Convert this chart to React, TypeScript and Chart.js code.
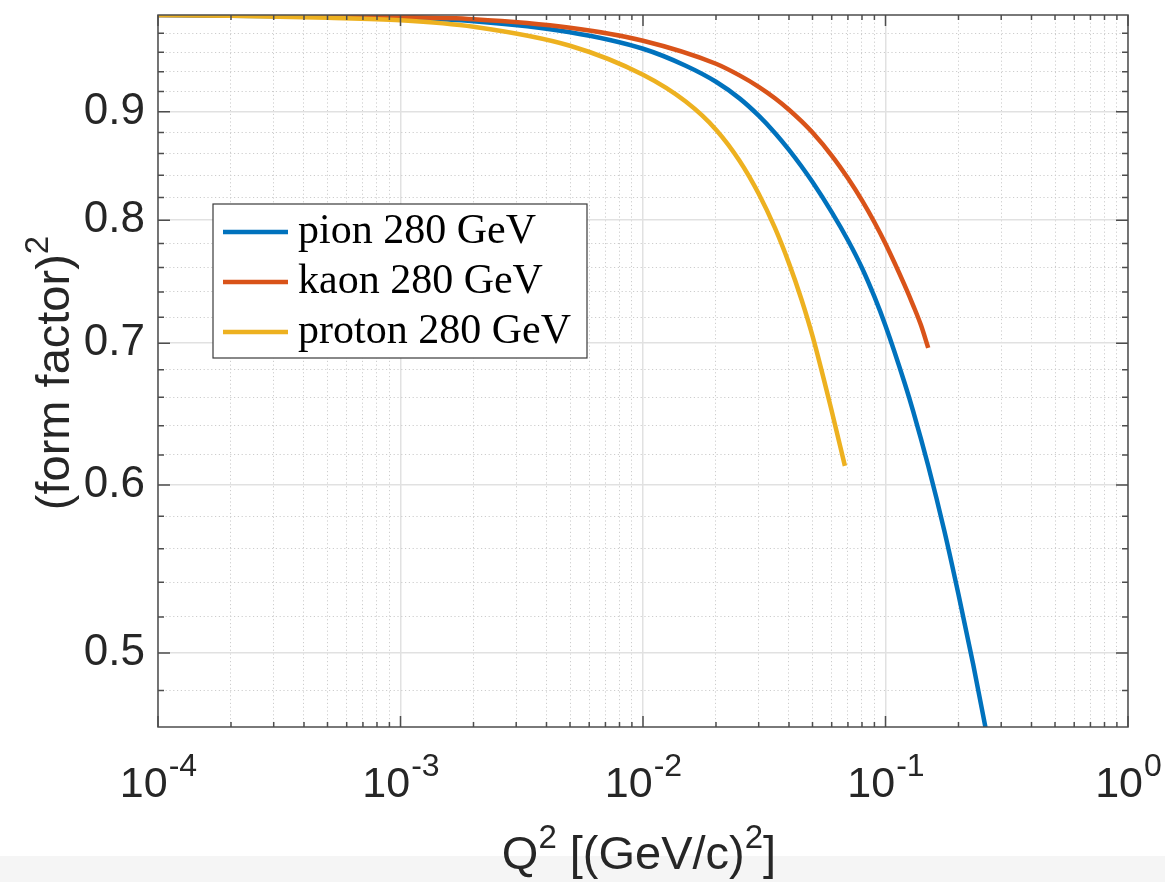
import { useEffect, useRef } from 'react';
import { Chart, registerables } from 'chart.js';

Chart.register(...registerables);

// ---------- data ----------
const seriesLabels = ['pion 280 GeV', 'kaon 280 GeV', 'proton 280 GeV'];
const seriesColors = ['#0072BD', '#D95319', '#EDB120'];

const q2Pion = [1e-4, 2e-4, 5e-4, 1e-3, 2e-3, 5e-3, 0.01, 0.015, 0.02, 0.025, 0.03, 0.035, 0.04, 0.045, 0.05, 0.06, 0.07, 0.08, 0.09, 0.1, 0.12, 0.13, 0.15, 0.175, 0.2, 0.23, 0.26];
const ffPion = [0.99967, 0.99891, 0.99783, 0.99642, 0.99296, 0.98116, 0.96372, 0.94612, 0.92978, 0.91316, 0.89616, 0.87956, 0.86356, 0.8483, 0.83386, 0.80712, 0.78277, 0.75956, 0.73623, 0.7134, 0.67019, 0.65025, 0.61277, 0.57073, 0.53281, 0.49377, 0.45946];

const q2Kaon = [1e-4, 2e-4, 5e-4, 1e-3, 2e-3, 5e-3, 0.01, 0.02, 0.025, 0.03, 0.035, 0.04, 0.045, 0.05, 0.06, 0.07, 0.08, 0.09, 0.1, 0.12, 0.13, 0.14, 0.15];
const ffKaon = [0.99978, 0.99935, 0.99848, 0.9975, 0.99512, 0.98597, 0.97215, 0.94818, 0.93627, 0.92475, 0.91336, 0.90202, 0.89081, 0.87985, 0.85822, 0.83731, 0.81745, 0.79822, 0.7798, 0.74534, 0.72939, 0.71386, 0.6964];

const q2Proton = [1e-4, 2e-4, 5e-4, 1e-3, 2e-3, 5e-3, 0.01, 0.015, 0.02, 0.025, 0.03, 0.035, 0.04, 0.045, 0.05, 0.06, 0.068];
const ffProton = [0.99967, 0.99891, 0.99675, 0.99404, 0.98705, 0.96687, 0.93687, 0.91, 0.88264, 0.85339, 0.82333, 0.7933, 0.76335, 0.73424, 0.70554, 0.65032, 0.61266];

// ---------- axes ----------
const xMin = 1e-4;
const xMax = 1;
const yMin = 0.4614;
const yMax = 0.9997;

const xMajorTicks = [1e-4, 1e-3, 1e-2, 1e-1, 1];
const xTickExponents = ['-4', '-3', '-2', '-1', '0'];
const xMinorMultipliers = [2, 3, 4, 5, 6, 7, 8, 9];

const yMajorTicks = [0.5, 0.6, 0.7, 0.8, 0.9];
const yTickLabels = ['0.5', '0.6', '0.7', '0.8', '0.9'];
const yMinorTicks = [0.48, 0.52, 0.54, 0.56, 0.58, 0.62, 0.64, 0.66, 0.68, 0.72, 0.74, 0.76, 0.78, 0.82, 0.84, 0.86, 0.88, 0.92, 0.94, 0.96, 0.98];

const xTitleMain = ['Q', ' [(GeV/c)', ']'];
const yTitleMain = '(form factor)';

const xAllTicks: number[] = [];
xMajorTicks.forEach((m, i) => {
  xAllTicks.push(m);
  if (i < xMajorTicks.length - 1) xMinorMultipliers.forEach((k) => xAllTicks.push(m * k));
});
const yAllTicks = [...yMinorTicks, ...yMajorTicks].sort((a, b) => a - b);

const near = (a: number, b: number) => Math.abs(a - b) < 1e-9;
const isMajorX = (v: any) => typeof v === 'number' && xMajorTicks.some((m) => Math.abs(m - v) / m < 1e-6);
const isMajorY = (v: any) => typeof v === 'number' && yMajorTicks.some((m) => near(m, v));

const SANS = '"Liberation Sans", Arial, Helvetica, sans-serif';
const SERIF = '"Liberation Serif", "Times New Roman", serif';
const TEXT = '#262626';
const MAJOR_GRID = '#e1e1e1';
const MINOR_GRID = '#cdcdcd';

const mkPts = (xs: number[], ys: number[]) => xs.map((x, i) => ({ x, y: ys[i] }));

const matlabPlugin = {
  id: 'matlabLook',
  beforeDraw(chart: any) {
    const { ctx, width, height } = chart;
    ctx.save();
    ctx.fillStyle = '#ffffff';
    ctx.fillRect(0, 0, width, height);
    ctx.fillStyle = '#f5f5f5';
    ctx.fillRect(0, 856, width, height - 856);
    ctx.restore();
  },
  afterDraw(chart: any) {
    const { ctx, chartArea: ca } = chart;
    const xs = chart.scales.x;
    const ys = chart.scales.y;
    ctx.save();

    // box
    ctx.strokeStyle = '#4d4d4d';
    ctx.lineWidth = 1.5;
    ctx.strokeRect(ca.left, ca.top, ca.right - ca.left, ca.bottom - ca.top);

    // inward ticks on all four sides
    ctx.beginPath();
    xAllTicks.forEach((v) => {
      const px = xs.getPixelForValue(v);
      const len = isMajorX(v) ? 11 : 5;
      ctx.moveTo(px, ca.bottom);
      ctx.lineTo(px, ca.bottom - len);
      ctx.moveTo(px, ca.top);
      ctx.lineTo(px, ca.top + len);
    });
    yAllTicks.forEach((v) => {
      const py = ys.getPixelForValue(v);
      const len = isMajorY(v) ? 12 : 6;
      ctx.moveTo(ca.left, py);
      ctx.lineTo(ca.left + len, py);
      ctx.moveTo(ca.right, py);
      ctx.lineTo(ca.right - len, py);
    });
    ctx.stroke();

    // x tick labels 10^n
    ctx.fillStyle = TEXT;
    ctx.textBaseline = 'alphabetic';
    ctx.textAlign = 'left';
    const baseFont = `43px ${SANS}`;
    const supFont = `32px ${SANS}`;
    xMajorTicks.forEach((v, i) => {
      const px = xs.getPixelForValue(v);
      ctx.font = baseFont;
      const wb = ctx.measureText('10').width;
      ctx.font = supFont;
      const ws = ctx.measureText(xTickExponents[i]).width;
      const sx = px - (wb + ws) / 2;
      ctx.font = baseFont;
      ctx.fillText('10', sx, 797);
      ctx.font = supFont;
      ctx.fillText(xTickExponents[i], sx + wb + 1, 776);
    });

    // x title: Q^2 [(GeV/c)^2]
    const tMain = `47px ${SANS}`;
    const tSup = `33px ${SANS}`;
    const parts = [
      { t: xTitleMain[0], sup: false },
      { t: '2', sup: true },
      { t: xTitleMain[1], sup: false },
      { t: '2', sup: true },
      { t: xTitleMain[2], sup: false },
    ];
    let total = 0;
    const widths = parts.map((p) => {
      ctx.font = p.sup ? tSup : tMain;
      const w = ctx.measureText(p.t).width;
      total += w;
      return w;
    });
    let cx = (ca.left + ca.right) / 2 - 4 - total / 2;
    parts.forEach((p, i) => {
      ctx.font = p.sup ? tSup : tMain;
      ctx.fillText(p.t, cx, p.sup ? 848 : 869);
      cx += widths[i];
    });

    // y title: (form factor)^2, rotated
    ctx.save();
    const cy = (ca.top + ca.bottom) / 2 + 2;
    ctx.translate(69, cy);
    ctx.rotate(-Math.PI / 2);
    ctx.font = tMain;
    const wm = ctx.measureText(yTitleMain).width;
    ctx.font = tSup;
    const w2 = ctx.measureText('2').width;
    const st = -(wm + w2) / 2;
    ctx.font = tMain;
    ctx.fillText(yTitleMain, st, 0);
    ctx.font = tSup;
    ctx.fillText('2', st + wm, -21);
    ctx.restore();

    // legend
    const lx = 213, ly = 204, lw = 374, lh = 154;
    ctx.fillStyle = '#ffffff';
    ctx.fillRect(lx, ly, lw, lh);
    ctx.strokeStyle = '#3a3a3a';
    ctx.lineWidth = 1.2;
    ctx.strokeRect(lx, ly, lw, lh);
    ctx.font = `42px ${SERIF}`;
    chart.data.datasets.forEach((ds: any, i: number) => {
      const yc = 232 + i * 50;
      ctx.strokeStyle = ds.borderColor;
      ctx.lineWidth = 4.5;
      ctx.beginPath();
      ctx.moveTo(223, yc);
      ctx.lineTo(288, yc);
      ctx.stroke();
      ctx.fillStyle = '#000000';
      ctx.fillText(ds.label, 298, yc + 11);
    });

    ctx.restore();
  },
};

export default function App() {
  const ref = useRef<HTMLCanvasElement | null>(null);

  useEffect(() => {
    if (!ref.current) return;
    const gridColor = (ctx: any, major: (v: any) => boolean) =>
      ctx.tick && major(ctx.tick.value) ? MAJOR_GRID : MINOR_GRID;
    const gridWidth = (ctx: any, major: (v: any) => boolean) =>
      ctx.tick && major(ctx.tick.value) ? 1.5 : 1;
    const gridDash = (ctx: any, major: (v: any) => boolean) =>
      ctx.tick && !major(ctx.tick.value) ? [1.2, 2.6] : [];

    const chart = new Chart(ref.current, {
      type: 'line',
      data: {
        datasets: [
          { label: seriesLabels[0], data: mkPts(q2Pion, ffPion), borderColor: seriesColors[0], order: 3 },
          { label: seriesLabels[1], data: mkPts(q2Kaon, ffKaon), borderColor: seriesColors[1], order: 2 },
          { label: seriesLabels[2], data: mkPts(q2Proton, ffProton), borderColor: seriesColors[2], order: 1 },
        ].map((d) => ({
          ...d,
          borderWidth: 4.5,
          pointRadius: 0,
          fill: false,
          cubicInterpolationMode: 'monotone' as const,
          backgroundColor: d.borderColor,
        })),
      },
      options: {
        animation: false,
        responsive: false,
        devicePixelRatio: 1,
        events: [],
        layout: { padding: { top: 15, right: 37, left: 0, bottom: 0 } },
        plugins: {
          legend: { display: false },
          tooltip: { enabled: false },
        },
        scales: {
          x: {
            type: 'logarithmic',
            min: xMin,
            max: xMax,
            afterBuildTicks: (s: any) => {
              s.ticks = xAllTicks.map((v) => ({ value: v, major: isMajorX(v) }));
            },
            afterFit: (s: any) => {
              s.height = 155;
              s.paddingLeft = 0;
              s.paddingRight = 0;
              s.paddingTop = 0;
              s.paddingBottom = 0;
            },
            ticks: { display: false, autoSkip: false },
            grid: {
              drawTicks: false,
              color: (c: any) => gridColor(c, isMajorX),
              lineWidth: (c: any) => gridWidth(c, isMajorX),
            },
            border: { display: false, dash: (c: any) => gridDash(c, isMajorX) },
          },
          y: {
            type: 'logarithmic',
            min: yMin,
            max: yMax,
            afterBuildTicks: (s: any) => {
              s.ticks = yAllTicks.map((v) => ({ value: v, major: isMajorY(v) }));
            },
            afterFit: (s: any) => {
              s.width = 158;
              s.paddingTop = 0;
              s.paddingBottom = 0;
              s.paddingLeft = 0;
              s.paddingRight = 0;
            },
            ticks: {
              autoSkip: false,
              padding: 13,
              color: TEXT,
              font: { family: SANS, size: 44 },
              callback: (v: any) => {
                const idx = yMajorTicks.findIndex((m) => near(m, Number(v)));
                return idx >= 0 ? yTickLabels[idx] : '';
              },
            },
            grid: {
              drawTicks: false,
              color: (c: any) => gridColor(c, isMajorY),
              lineWidth: (c: any) => gridWidth(c, isMajorY),
            },
            border: { display: false, dash: (c: any) => gridDash(c, isMajorY) },
          },
        },
      } as any,
      plugins: [matlabPlugin],
    });
    return () => chart.destroy();
  }, []);

  return (
    <div style={{ position: 'absolute', left: 0, top: 0, width: 1165, height: 882, background: '#fff' }}>
      <canvas ref={ref} width={1165} height={882} style={{ width: 1165, height: 882, display: 'block' }} />
    </div>
  );
}
